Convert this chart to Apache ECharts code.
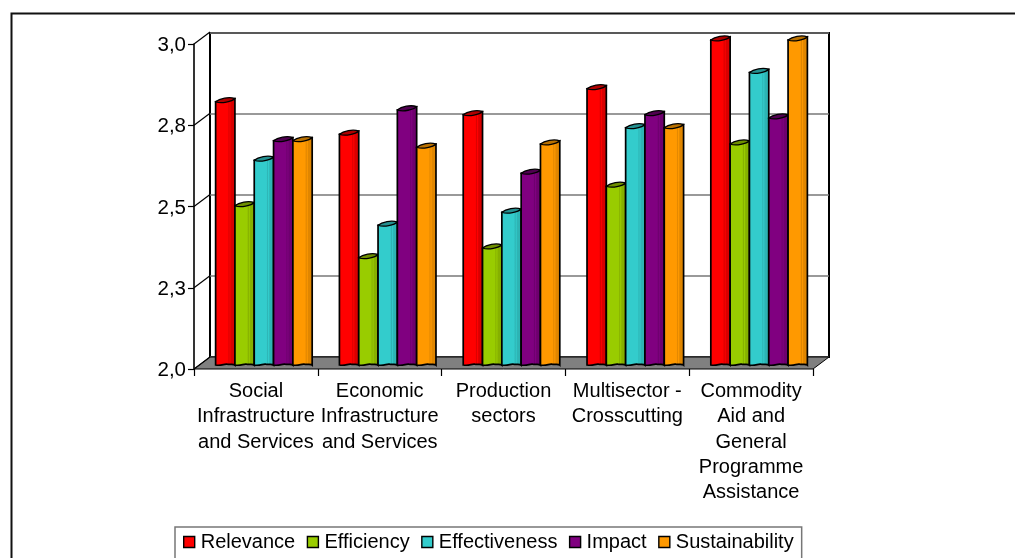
<!DOCTYPE html>
<html><head><meta charset="utf-8">
<style>html,body{margin:0;padding:0;background:#fff;overflow:hidden}#c{width:1015px;height:558px}</style>
<script src="https://cdn.jsdelivr.net/npm/echarts@6/dist/echarts.min.js"></script>
</head><body><div id="c"></div>
<script>
const categories = ['Social\nInfrastructure\nand Services','Economic\nInfrastructure\nand Services','Production\nsectors','Multisector -\nCrosscutting','Commodity\nAid and\nGeneral\nProgramme\nAssistance'];
const relevance = [2.81,2.71,2.77,2.85,3.0];
const efficiency = [2.49,2.33,2.36,2.55,2.68];
const effectiveness = [2.63,2.43,2.47,2.73,2.90];
const impact = [2.69,2.785,2.59,2.77,2.76];
const sustainability = [2.69,2.67,2.68,2.73,3.0];
const seriesNames = ['Relevance','Efficiency','Effectiveness','Impact','Sustainability'];
const seriesValues = [relevance,efficiency,effectiveness,impact,sustainability];
const colors = ['#FF0000','#99CC00','#33CCCC','#800080','#FF9900'];
const darks = ['#D80000','#86B000','#2DB4B4','#6E006E','#E08600'];
const tops = ['#B00000','#6F8F00','#249090','#500050','#B87000'];
const tickValues = [2,2.25,2.5,2.75,3];
const FONT = '"Liberation Sans", Arial, sans-serif';
const FS = 20;
const DX = 16, DY = 12; // depth of the 3D box

function barItem(i){
  return function(params, api){
    const cat = api.value(0), val = api.value(1);
    const p = api.coord([cat,val]), b = api.coord([cat,2]);
    const w = api.size([1,0])[0]*0.156;
    const xl = p[0]+DX/2+(i-2.5)*w, xr = xl+w;
    const yt = p[1]-DY/2+0.4, yb = b[1]-DY/2;
    const tilt = 3.2, h = 2.2;
    const yl = yt+tilt/2, yr = yt-tilt/2;
    const body = `M${xl} ${yl} L${xl} ${yb+2} C${xl+w*0.3} ${yb+3.2} ${xl+w*0.45} ${yb+0.5} ${xl+w*0.6} ${yb+1.2} C${xl+w*0.75} ${yb+2} ${xr-w*0.1} ${yb+0.5} ${xr} ${yb+2.2} L${xr} ${yr} Z`;
    const top = `M${xl} ${yl} C${xl+w*0.2} ${yl-h*1.5} ${xr-w*0.3} ${yr-h} ${xr} ${yr} C${xr-w*0.15} ${yr+h*1.4} ${xl+w*0.3} ${yl+h} ${xl} ${yl} Z`;
    return {type:'group',children:[
      {type:'path',shape:{pathData:body},style:{
        fill:{type:'linear',x:0,y:0,x2:1,y2:0,colorStops:[
          {offset:0,color:colors[i]},{offset:0.62,color:colors[i]},
          {offset:0.68,color:darks[i]},{offset:0.72,color:colors[i]},
          {offset:0.78,color:darks[i]},{offset:1,color:darks[i]}]},
        stroke:'#000',lineWidth:1.7}},
      {type:'path',shape:{pathData:top},style:{fill:tops[i],stroke:'#000',lineWidth:1.3}}
    ]};
  };
}

const barSeries = seriesNames.map((name,i)=>({
  name, type:'custom', xAxisIndex:0, yAxisIndex:0, z:5, clip:false,
  renderItem:barItem(i), itemStyle:{color:colors[i]},
  encode:{x:0,y:1},
  data:seriesValues[i].map((v,k)=>[k,v])
}));

const option = {
  animation:false,
  backgroundColor:'#fff',
  graphic:[
    {type:'polyline',z:-10,silent:true,shape:{points:[[11.5,558],[11.5,13.5],[1015,13.5]]},style:{fill:'none',stroke:'#111',lineWidth:2}}
  ],
  grid:[
    {left:194,right:202,top:44,bottom:189,containLabel:false},
    {left:210,right:186,top:33,bottom:201,show:true,backgroundColor:'#fff',borderColor:'#000',borderWidth:2,z:0}
  ],
  legend:{
    left:175,top:527,data:seriesNames,icon:'rect',itemWidth:11,itemHeight:11,itemGap:11.5,
    padding:[5,8,12,8],borderColor:'#777',borderWidth:1.5,backgroundColor:'#fff',
    textStyle:{fontFamily:FONT,fontSize:20,color:'#000',padding:[2,0,0,1]},
    itemStyle:{borderColor:'#000',borderWidth:1.4},selectedMode:false
  },
  xAxis:[
    {type:'category',gridIndex:0,data:categories,boundaryGap:true,
     axisLine:{show:false},
     axisTick:{show:true,length:7,alignWithLabel:false,lineStyle:{color:'#000',width:1.2}},
     axisLabel:{interval:0,fontFamily:FONT,fontSize:FS,color:'#000',lineHeight:25.2,margin:10,align:'center',verticalAlign:'top'}},
    {type:'category',gridIndex:1,data:categories,show:false}
  ],
  yAxis:[
    {type:'value',gridIndex:0,min:2,max:3,interval:0.25,
     axisLine:{show:true,lineStyle:{color:'#000',width:1.6}},
     axisTick:{show:true,length:6,lineStyle:{color:'#000',width:1.2}},
     splitLine:{show:false},
     axisLabel:{margin:8,
       rich:{t:{fontFamily:FONT,fontSize:20.5,color:'#000',padding:[3,0,0,0]}},
       formatter:v=>'{t|'+v.toFixed(1).replace('.',',')+'}'}},
    {type:'value',gridIndex:1,min:2,max:3,interval:0.25,
     axisLine:{show:false},axisTick:{show:false},axisLabel:{show:false},
     splitLine:{show:true,lineStyle:{color:'#777',width:1.5}}}
  ],
  series:[
    {type:'custom',xAxisIndex:0,yAxisIndex:0,z:2,silent:true,clip:false,
     data:[[0,2]],
     renderItem(params,api){
       const c = params.coordSys, yb = api.coord([0,2])[1];
       return {type:'polygon',shape:{points:[[c.x,yb],[c.x+DX,yb-DY],[c.x+c.width+DX,yb-DY],[c.x+c.width,yb]]},
         style:{fill:'#808080',stroke:'#000',lineWidth:1}};
     }},
    {type:'custom',xAxisIndex:0,yAxisIndex:0,z:2,silent:true,clip:false,
     data:tickValues.map(v=>[0,v]),
     renderItem(params,api){
       const c = params.coordSys, y = api.coord([0,api.value(1)])[1];
       return {type:'line',shape:{x1:c.x,y1:y,x2:c.x+DX,y2:y-DY},style:{stroke:'#000',lineWidth:1.2}};
     }},
    ...barSeries
  ]
};
const chart = echarts.init(document.getElementById('c'),null,{renderer:'canvas'});
chart.setOption(option);
</script></body></html>
